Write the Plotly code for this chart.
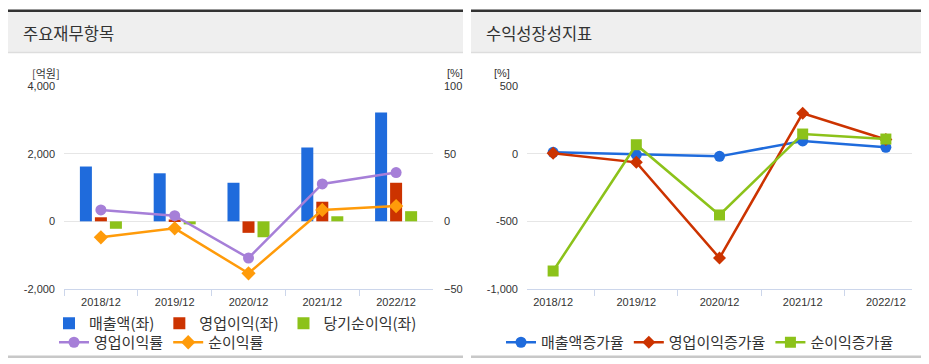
import plotly.graph_objects as go

# The page adds an 8px body margin, so the figure covers window pixels 8..929 x 8..364.
OFF = 8
W, H = 929 - OFF, 364 - OFF

categories = ["2018/12", "2019/12", "2020/12", "2021/12", "2022/12"]

# Left chart (주요재무항목)
sales = [1620, 1420, 1140, 2180, 3220]          # 매출액 (억원)
op_income = [120, 55, -340, 580, 1140]           # 영업이익 (억원)
net_income = [-220, -90, -470, 150, 300]         # 당기순이익 (억원)
op_margin = [8.4, 4.2, -27.1, 27.6, 36.0]        # 영업이익률 (%)
net_margin = [-11.8, -5.2, -38.4, 8.4, 11.3]     # 순이익률 (%)

# Right chart (수익성장성지표)
sales_growth = [10, -7, -20, 94, 47]
op_growth = [3, -64, -771, 298, 105]
net_growth = [-867, 66, -453, 145, 108]

left_ticks = [-2000, 0, 2000, 4000]
left_ticktext = ["-2,000", "0", "2,000", "4,000"]
right_ticks = [-50, 0, 50, 100]
growth_ticks = [-1000, -500, 0, 500]
growth_ticktext = ["-1,000", "-500", "0", "500"]

BLUE = "#1f6bdc"
RED = "#cc3300"
GREEN = "#8cc21a"
PURPLE = "#a67fd8"
ORANGE = "#ff9b0a"

FONT = "Noto Sans CJK KR, Liberation Sans, sans-serif"
NUMFONT = "Liberation Sans, Noto Sans CJK KR, sans-serif"


def px(x):
    return (x - OFF) / W


def py(y):
    return 1 - (y - OFF) / H


fig = go.Figure()

fig.add_trace(go.Bar(x=categories, y=sales, name="매출액(좌)", marker_color=BLUE,
                     marker_line_width=0, xaxis="x", yaxis="y", legend="legend"))
fig.add_trace(go.Bar(x=categories, y=op_income, name="영업이익(좌)", marker_color=RED,
                     marker_line_width=0, xaxis="x", yaxis="y", legend="legend"))
fig.add_trace(go.Bar(x=categories, y=net_income, name="당기순이익(좌)", marker_color=GREEN,
                     marker_line_width=0, xaxis="x", yaxis="y", legend="legend"))
fig.add_trace(go.Scatter(x=categories, y=op_margin, name="영업이익률", mode="lines+markers",
                         line=dict(color=PURPLE, width=2.5),
                         marker=dict(symbol="circle", size=11, color=PURPLE),
                         xaxis="x", yaxis="y2", legend="legend2"))
fig.add_trace(go.Scatter(x=categories, y=net_margin, name="순이익률", mode="lines+markers",
                         line=dict(color=ORANGE, width=2.5),
                         marker=dict(symbol="diamond", size=11, color=ORANGE),
                         xaxis="x", yaxis="y2", legend="legend2"))

fig.add_trace(go.Scatter(x=categories, y=sales_growth, name="매출액증가율", mode="lines+markers",
                         line=dict(color=BLUE, width=2.5),
                         marker=dict(symbol="circle", size=11, color=BLUE),
                         xaxis="x3", yaxis="y3", legend="legend3"))
fig.add_trace(go.Scatter(x=categories, y=op_growth, name="영업이익증가율", mode="lines+markers",
                         line=dict(color=RED, width=2.5),
                         marker=dict(symbol="diamond", size=10, color=RED),
                         xaxis="x3", yaxis="y3", legend="legend3"))
fig.add_trace(go.Scatter(x=categories, y=net_growth, name="순이익증가율", mode="lines+markers",
                         line=dict(color=GREEN, width=2.5),
                         marker=dict(symbol="square", size=11, color=GREEN),
                         xaxis="x3", yaxis="y3", legend="legend3"))

ydom = [py(289), py(86)]
xcommon = dict(type="category", tickson="boundaries", ticks="outside", ticklen=6,
               tickcolor="#ccd6eb", showline=True, linecolor="#ccd6eb", linewidth=1,
               showgrid=False, zeroline=False, fixedrange=True, ticklabelstandoff=3,
               tickfont=dict(family=NUMFONT, size=11, color="#333333"))

shapes = []
annotations = []
for (x0, x1, title) in [(8, 463, "주요재무항목"), (471, 926, "수익성장성지표")]:
    shapes.append(dict(type="rect", xref="paper", yref="paper", x0=px(x0), x1=px(x1),
                       y0=py(52.5), y1=py(12), fillcolor="#efefef", line_width=0, layer="below"))
    shapes.append(dict(type="rect", xref="paper", yref="paper", x0=px(x0), x1=px(x1),
                       y0=py(12), y1=py(9.5), fillcolor="#333333", line_width=0, layer="below"))
    shapes.append(dict(type="line", xref="paper", yref="paper", x0=px(x0), x1=px(x1),
                       y0=py(52.5), y1=py(52.5), line=dict(color="#dddddd", width=1.5), layer="below"))
    shapes.append(dict(type="rect", xref="paper", yref="paper", x0=px(x0), x1=px(x1),
                       y0=py(358), y1=py(355.5), fillcolor="#c8c8c8", line_width=0, layer="below"))
    annotations.append(dict(text=title, xref="paper", yref="paper", x=px(x0 + 13), y=py(33),
                            xanchor="left", yanchor="middle", showarrow=False,
                            font=dict(family=FONT, size=16.5, color="#333333")))

annotations += [
    dict(text="[억원]", xref="paper", yref="paper", x=px(62), y=py(73), xanchor="right",
         yanchor="middle", showarrow=False, font=dict(family=FONT, size=11, color="#333333")),
    dict(text="[%]", xref="paper", yref="paper", x=px(445), y=py(73), xanchor="left",
         yanchor="middle", showarrow=False, font=dict(family=NUMFONT, size=11, color="#333333")),
    dict(text="[%]", xref="paper", yref="paper", x=px(512), y=py(73), xanchor="right",
         yanchor="middle", showarrow=False, font=dict(family=NUMFONT, size=11, color="#333333")),
]

legfont = dict(family=FONT, size=15, color="#333333")

fig.update_layout(
    width=W, height=H,
    margin=dict(l=0, r=0, t=0, b=0, autoexpand=False),
    paper_bgcolor="white", plot_bgcolor="rgba(0,0,0,0)",
    barmode="group", bargap=0.39, bargroupgap=0.2,
    showlegend=True,
    xaxis=dict(domain=[px(64), px(433)], anchor="y", **xcommon),
    yaxis=dict(domain=ydom, range=[-2000, 4000], tickvals=left_ticks, ticktext=left_ticktext,
               showgrid=True, gridcolor="#e6e6e6", gridwidth=1, zeroline=False,
               ticks="", ticklabelstandoff=8, fixedrange=True,
               tickfont=dict(family=NUMFONT, size=11, color="#333333")),
    yaxis2=dict(domain=ydom, range=[-50, 100], tickvals=right_ticks, overlaying="y",
                side="right", anchor="x", showgrid=False, zeroline=False, ticks="",
                ticklabelstandoff=10, fixedrange=True,
                tickfont=dict(family=NUMFONT, size=11, color="#333333")),
    xaxis3=dict(domain=[px(527), px(912)], anchor="y3", **xcommon),
    yaxis3=dict(domain=ydom, range=[-1000, 500], tickvals=growth_ticks, ticktext=growth_ticktext,
                anchor="x3", showgrid=True, gridcolor="#e6e6e6", gridwidth=1, zeroline=False,
                ticks="", ticklabelstandoff=8, fixedrange=True,
                tickfont=dict(family=NUMFONT, size=11, color="#333333")),
    legend=dict(orientation="h", x=px(49), y=py(307), xanchor="left", yanchor="top",
                font=legfont, bgcolor="rgba(0,0,0,0)", itemclick=False, itemdoubleclick=False),
    legend2=dict(orientation="h", x=px(54), y=py(326), xanchor="left", yanchor="top",
                 font=legfont, bgcolor="rgba(0,0,0,0)", itemclick=False, itemdoubleclick=False),
    legend3=dict(orientation="h", x=px(501), y=py(326), xanchor="left", yanchor="top",
                 font=legfont, bgcolor="rgba(0,0,0,0)", itemclick=False, itemdoubleclick=False),
    shapes=shapes,
    annotations=annotations,
)

fig.write_html("out.html")
